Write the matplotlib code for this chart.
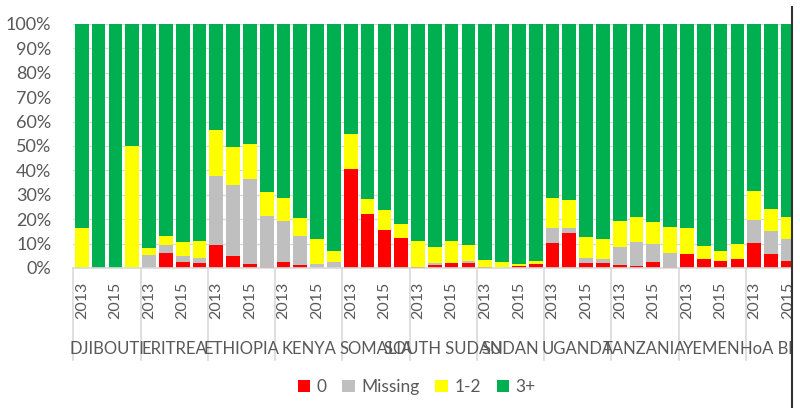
import matplotlib
matplotlib.use("Agg")
import matplotlib.pyplot as plt
import matplotlib.transforms as mtransforms
from matplotlib.patches import Rectangle, Patch
from matplotlib.lines import Line2D

plt.rcParams['font.family'] = ['Lato', 'DejaVu Sans']

# Data (percent of each bar)
countries = ["DJIBOUTI", "ERITREA", "ETHIOPIA", "KENYA", "SOMALIA", "SOUTH SUDAN",
             "SUDAN", "UGANDA", "TANZANIA", "YEMEN", "HoA Blank"]
years = ["2013", "2014", "2015", "2016"]
shown_years = ["2013", "2015"]

# one value per bar, 4 bars per country (last country cut off after 3 bars)
zero = [0, 0, 0, 0,            # Djibouti
        0, 6.3, 2.3, 1.9,      # Eritrea
        9.4, 4.9, 1.5, 0.4,    # Ethiopia
        2.5, 1.2, 0, 0,        # Kenya
        40.4, 22.0, 15.7, 12.3,  # Somalia
        0.5, 1.4, 2.2, 1.9,    # South Sudan
        0.5, 0.2, 0.9, 1.5,    # Sudan
        10.1, 14.3, 2.2, 1.9,  # Uganda
        1.2, 0.8, 2.3, 0.4,    # Tanzania
        5.6, 3.6, 2.7, 3.6,    # Yemen
        10.1, 5.7, 2.9]        # HoA
missing = [0, 0, 0, 0,
           5.2, 3.3, 2.7, 2.3,
           28.3, 29.1, 35.0, 20.9,
           16.9, 11.8, 1.6, 2.5,
           0, 0, 0, 0,
           0, 0.5, 0, 1.0,
           0, 0, 0, 0,
           6.3, 2.1, 2.0, 1.8,
           7.5, 10.0, 7.7, 5.6,
           0, 0, 0, 0,
           9.4, 9.3, 9.1]
one_two = [16.5, 0, 0, 50.0,
           2.9, 3.5, 5.5, 6.9,
           18.9, 15.7, 14.2, 10.0,
           9.4, 7.6, 10.2, 4.5,
           14.4, 6.1, 7.9, 5.9,
           10.7, 6.8, 8.9, 6.5,
           2.9, 2.3, 0.7, 1.4,
           12.2, 11.6, 8.6, 8.1,
           10.6, 10.1, 8.7, 10.7,
           10.9, 5.4, 4.1, 6.1,
           12.2, 9.0, 8.9]
three_plus = [100 - a - b - c for a, b, c in zip(zero, missing, one_two)]

colors = {"0": "#FF0000", "Missing": "#BFBFBF", "1-2": "#FFFF00", "3+": "#00B050"}
grid_c = "#D9D9D9"
text_c = "#595959"

W, H = 800, 408
fig = plt.figure(figsize=(W / 100, H / 100), dpi=100)
x0, x1, ytop, ybot = 73.4, 792, 24, 268
ax = fig.add_axes([x0 / W, 1 - ybot / H, (x1 - x0) / W, (ybot - ytop) / H])

xs = list(range(len(zero)))
bottom = [0] * len(xs)
for name, vals in [("0", zero), ("Missing", missing), ("1-2", one_two), ("3+", three_plus)]:
    ax.bar(xs, vals, bottom=bottom, width=0.815, color=colors[name], zorder=2)
    bottom = [b + v for b, v in zip(bottom, vals)]

ax.set_ylim(0, 100)
ax.set_xlim(-0.5, 42.25)
ax.set_yticks(range(0, 101, 10))
ax.set_yticklabels([f"{v}%" for v in range(0, 101, 10)], fontsize=13, color=text_c)
ax.tick_params(axis='y', length=0, pad=16)
ax.set_xticks([])
ax.yaxis.grid(True, color=grid_c, lw=0.9)
ax.set_axisbelow(True)
for s in ["left", "right", "top"]:
    ax.spines[s].set_visible(False)
ax.spines["bottom"].set_color(grid_c)
ax.spines["bottom"].set_linewidth(1.2)

# category axis: years, separators, country names
trans = mtransforms.blended_transform_factory(ax.transData, ax.transAxes)
ph = ybot - ytop
sep_bottom = -(360 - ybot) / ph
year_y = -(282 - ybot) / ph
country_y = -(349 - ybot) / ph
for g, country in enumerate(countries):
    left = g * len(years) - 0.5
    ax.plot([left, left], [0, sep_bottom], color=grid_c, lw=1.2,
            transform=trans, clip_on=False)
    for k, yr in enumerate(years):
        if yr in shown_years:
            ax.text(left + 0.5 + k, year_y, yr, rotation=90, ha='center', va='top',
                    fontsize=11.5, color=text_c, transform=trans, clip_on=False)
    ax.text(left + len(years) / 2, country_y, country, ha='center', va='center',
            fontsize=12, color=text_c, transform=trans, clip_on=False)

# chart is cut off at the right edge
fig.patches.append(Rectangle((x1 / W + 0.0005, 0), 1, 1, transform=fig.transFigure,
                             facecolor='white', edgecolor='none', zorder=10))
fig.lines.append(Line2D([x1 / W, x1 / W], [0, 1 - 7 / H], transform=fig.transFigure,
                        color='#333333', lw=1.5, zorder=11))

handles = [Patch(facecolor=c, edgecolor='none', label=n) for n, c in colors.items()]
fig.legend(handles=handles, loc='center', bbox_to_anchor=(0.521, 1 - 387 / H), ncol=4,
           frameon=False, fontsize=12.5, handlelength=0.7, handleheight=0.7,
           handletextpad=0.4, columnspacing=0.9, labelcolor=text_c)

fig.savefig("out.png", dpi=100)
